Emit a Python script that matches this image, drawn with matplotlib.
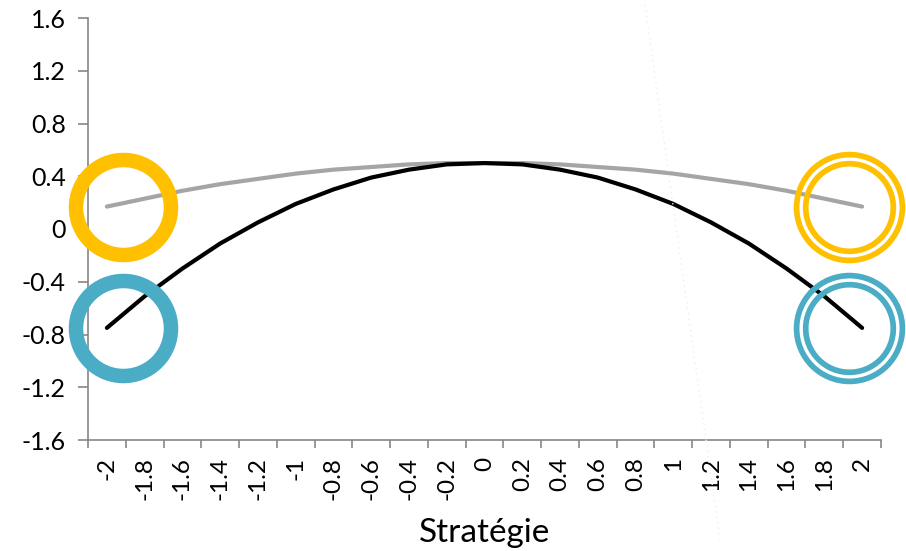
import numpy as np
import matplotlib.pyplot as plt
from matplotlib.lines import Line2D

# ----------------- Données -----------------
strategie = [-2.0, -1.8, -1.6, -1.4, -1.2, -1.0, -0.8, -0.6, -0.4, -0.2, 0.0,
             0.2, 0.4, 0.6, 0.8, 1.0, 1.2, 1.4, 1.6, 1.8, 2.0]
tick_labels = ["-2", "-1.8", "-1.6", "-1.4", "-1.2", "-1", "-0.8", "-0.6", "-0.4", "-0.2", "0",
               "0.2", "0.4", "0.6", "0.8", "1", "1.2", "1.4", "1.6", "1.8", "2"]
courbe_grise = [0.17, 0.23, 0.29, 0.34, 0.38, 0.42, 0.45, 0.47, 0.49, 0.50, 0.50,
                0.50, 0.49, 0.47, 0.45, 0.42, 0.38, 0.34, 0.29, 0.23, 0.17]
courbe_noire = [-0.75, -0.51, -0.30, -0.11, 0.05, 0.19, 0.30, 0.39, 0.45, 0.49, 0.50,
                0.49, 0.45, 0.39, 0.30, 0.19, 0.05, -0.11, -0.30, -0.51, -0.75]
y_ticks = [-1.6, -1.2, -0.8, -0.4, 0, 0.4, 0.8, 1.2, 1.6]
y_labels = ["-1.6", "-1.2", "-0.8", "-0.4", "0", "0.4", "0.8", "1.2", "1.6"]

# cercles (x, y, couleur) : simples à gauche, doubles à droite
cercles_gauche = [(-1.915, 0.17, "#ffc000"), (-1.915, -0.75, "#4bacc6")]
cercles_droite = [(1.928, 0.17, "#ffc000"), (1.928, -0.75, "#4bacc6")]

plt.rcParams["font.family"] = ["Lato", "DejaVu Sans"]
DPI = 100
px = 72.0 / DPI  # pixels -> points

fig = plt.figure(figsize=(9.06, 5.51), dpi=DPI)
ax = fig.add_axes([88/906, 1 - 440/551, (881 - 88)/906, (440 - 18)/551])

ax.plot(strategie, courbe_grise, color="#a5a5a5", lw=3, solid_capstyle="round")
ax.plot(strategie, courbe_noire, color="black", lw=3, solid_capstyle="round")

for x, y, c in cercles_gauche:
    ax.plot([x], [y], marker="o", ms=95*px, mfc="none", mec=c, mew=14.5*px,
            zorder=5, clip_on=False)
for x, y, c in cercles_droite:
    ax.plot([x], [y], marker="o", ms=105.8*px, mfc="none", mec=c, mew=5.7*px,
            zorder=5, clip_on=False)
    ax.plot([x], [y], marker="o", ms=87.6*px, mfc="none", mec=c, mew=5.7*px,
            zorder=5, clip_on=False)

ax.set_xlim(-2.1, 2.1)
ax.set_ylim(-1.6, 1.6)

ax.set_yticks(y_ticks)
ax.set_yticklabels(y_labels, fontsize=18)
ax.set_xticks(strategie)
ax.set_xticklabels(tick_labels, rotation=90, fontsize=17.5, va="top")
ax.set_xticks(np.arange(-2.1, 2.11, 0.2), minor=True)
ax.tick_params(axis="x", which="major", length=0, pad=12)
ax.tick_params(axis="x", which="minor", length=6, color="#868686", width=1.2, direction="out")
ax.tick_params(axis="y", length=7, color="#868686", width=1.2, direction="out", pad=9)

for s in ["top", "right"]:
    ax.spines[s].set_visible(False)
for s in ["left", "bottom"]:
    ax.spines[s].set_color("#868686")
    ax.spines[s].set_linewidth(1.2)

ax.set_xlabel("Stratégie", fontsize=24, labelpad=13)

# trait pointillé très pâle
fig.add_artist(Line2D([645/906, 720/906], [1 - 5/551, 1 - 540/551],
                      transform=fig.transFigure, color="#fde8e4", lw=1, ls=(0, (1, 3))))

fig.savefig("out.png", dpi=DPI)
